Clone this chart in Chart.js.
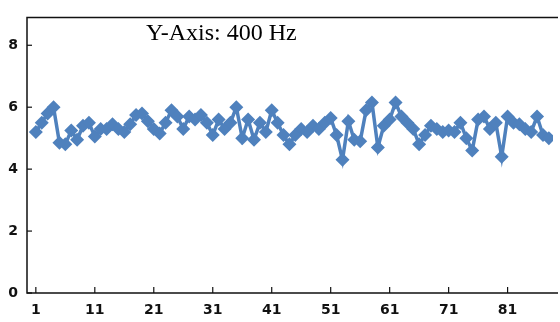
<!DOCTYPE html>
<html>
<head>
<meta charset="utf-8">
<script src="https://cdn.jsdelivr.net/npm/chart.js@4"></script>
<style>
  html, body { margin: 0; padding: 0; background: #fff; overflow: hidden; }
  #wrap { width: 560px; height: 322px; }
</style>
</head>
<body>
<div id="wrap"><canvas id="myChart"></canvas></div>
<script>
// sample index 1..88 (the picture is cut off on the right)
const indices = [];
for (let i = 1; i <= 88; i++) indices.push(i);

const values = [
  5.2, 5.5, 5.8, 6.0, 4.85, 4.8, 5.25, 4.95, 5.4, 5.5,
  5.05, 5.3, 5.3, 5.45, 5.3, 5.2, 5.45, 5.75, 5.8, 5.55,
  5.3, 5.15, 5.5, 5.9, 5.7, 5.3, 5.7, 5.6, 5.75, 5.5,
  5.1, 5.6, 5.3, 5.5, 6.0, 5.0, 5.6, 4.95, 5.5, 5.2,
  5.9, 5.5, 5.1, 4.8, 5.1, 5.3, 5.2, 5.4, 5.3, 5.5,
  5.65, 5.1, 4.3, 5.55, 4.95, 4.9, 5.9, 6.15, 4.7, 5.4,
  5.6, 6.15, 5.7, 5.5, 5.3, 4.8, 5.1, 5.4, 5.3, 5.2,
  5.25, 5.2, 5.5, 5.0, 4.6, 5.6, 5.7, 5.3, 5.5, 4.4,
  5.7, 5.5, 5.45, 5.3, 5.2, 5.7, 5.1, 5.0
];

const xTicks = [1, 11, 21, 31, 41, 51, 61, 71, 81];
const yTicks = [0, 2, 4, 6, 8];
const titleText = 'Y-Axis: 400 Hz';

const lineColor = '#4f81bd';

// frame + small inward tick marks + title inside the plot
const frameAndTitle = {
  id: 'frameAndTitle',
  afterDraw(chart) {
    const { ctx, chartArea, scales } = chart;
    ctx.save();
    ctx.strokeStyle = '#111';
    ctx.lineWidth = 1.5;
    ctx.beginPath();
    ctx.moveTo(chartArea.right + 5, chartArea.top);
    ctx.lineTo(chartArea.left, chartArea.top);
    ctx.lineTo(chartArea.left, chartArea.bottom);
    ctx.lineTo(chartArea.right + 5, chartArea.bottom);
    ctx.stroke();

    ctx.lineWidth = 1.2;
    xTicks.forEach(v => {
      const x = scales.x.getPixelForValue(v);
      ctx.beginPath();
      ctx.moveTo(x, chartArea.bottom);
      ctx.lineTo(x, chartArea.bottom - 6);
      ctx.stroke();
    });
    yTicks.forEach(v => {
      const y = scales.y.getPixelForValue(v);
      ctx.beginPath();
      ctx.moveTo(chartArea.left, y);
      ctx.lineTo(chartArea.left + 5, y);
      ctx.stroke();
    });

    ctx.font = '24px "Liberation Serif", "Times New Roman", serif';
    ctx.fillStyle = '#000';
    ctx.textAlign = 'left';
    ctx.textBaseline = 'alphabetic';
    ctx.fillText(titleText, 146, 40);
    ctx.restore();
  }
};

new Chart(document.getElementById('myChart'), {
  type: 'line',
  data: {
    datasets: [{
      data: indices.map((x, i) => ({ x: x, y: values[i] })),
      borderColor: lineColor,
      backgroundColor: lineColor,
      borderWidth: 3.5,
      pointStyle: 'rectRot',
      pointRadius: 7,
      pointBorderWidth: 0,
      pointBackgroundColor: lineColor,
      tension: 0
    }]
  },
  options: {
    responsive: true,
    maintainAspectRatio: false,
    animation: false,
    layout: { padding: { top: 8, right: 0, left: 0, bottom: 0 } },
    plugins: { legend: { display: false }, tooltip: { enabled: false } },
    scales: {
      x: {
        type: 'linear',
        min: -0.5,
        max: 88.7,
        afterBuildTicks(scale) { scale.ticks = xTicks.map(v => ({ value: v })); },
        afterFit(scale) { scale.height = 29; },
        grid: { display: false, drawTicks: false },
        border: { display: false },
        ticks: {
          autoSkip: false,
          maxRotation: 0,
          padding: 9,
          color: '#111',
          font: { family: 'DejaVu Sans', size: 14, weight: 'bold' }
        }
      },
      y: {
        min: 0,
        max: 8.9,
        afterBuildTicks(scale) { scale.ticks = yTicks.map(v => ({ value: v })); },
        afterFit(scale) { scale.width = 27; },
        grid: { display: false, drawTicks: false },
        border: { display: false },
        ticks: {
          padding: 9,
          color: '#111',
          font: { family: 'DejaVu Sans', size: 14, weight: 'bold' }
        }
      }
    }
  },
  plugins: [frameAndTitle]
});
</script>
</body>
</html>
